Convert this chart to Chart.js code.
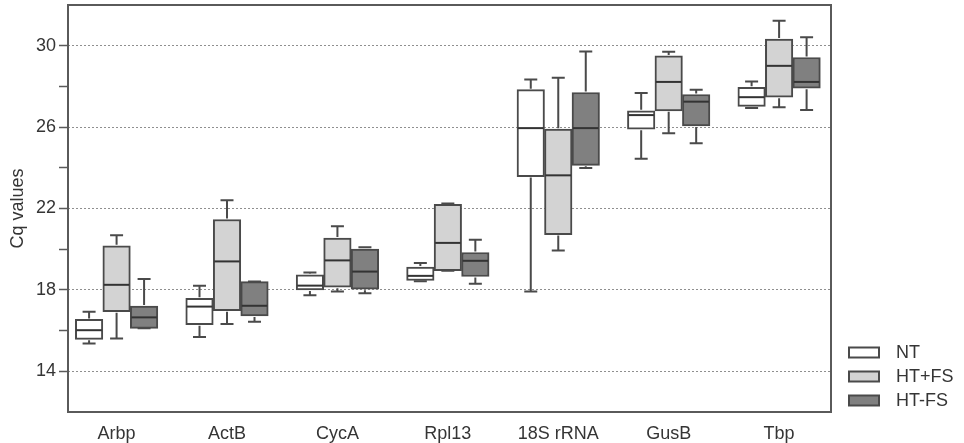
<!DOCTYPE html>
<html>
<head>
<meta charset="utf-8">
<script src="https://cdn.jsdelivr.net/npm/chart.js@4.4.1/dist/chart.umd.min.js"></script>
<style>
  html, body { margin: 0; padding: 0; background: #fff; }
  #wrap { width: 964px; height: 443px; position: relative; }
</style>
</head>
<body>
<div id="wrap"><canvas id="cqChart"></canvas></div>
<script>
  // Genes on the x axis
  const categories = ['Arbp', 'ActB', 'CycA', 'Rpl13', '18S rRNA', 'GusB', 'Tbp'];
  const yTickLabels = [14, 18, 22, 26, 30];

  // NT
  const ntMin    = [15.37, 15.69, 17.74, 18.43, 17.92, 24.45, 26.94];
  const ntQ1     = [15.57, 16.29, 18.00, 18.46, 23.57, 25.90, 27.02];
  const ntMedian = [16.02, 17.18, 18.21, 18.69, 25.95, 26.59, 27.47];
  const ntQ3     = [16.55, 17.59, 18.74, 19.12, 27.84, 26.80, 27.96];
  const ntMax    = [16.93, 18.21, 18.85, 19.32, 28.34, 27.68, 28.24];

  // HT+FS
  const hfMin    = [15.61, 16.32, 17.92, 18.94, 19.94, 25.70, 26.97];
  const hfQ1     = [16.93, 16.98, 18.13, 18.94, 20.72, 26.80, 27.47];
  const hfMedian = [18.25, 19.40, 19.45, 20.31, 23.63, 28.22, 29.01];
  const hfQ3     = [20.17, 21.46, 20.55, 22.20, 25.90, 29.50, 30.33];
  const hfMax    = [20.68, 22.40, 21.13, 22.25, 28.42, 29.70, 31.22];

  // HT-FS
  const hnMin    = [16.11, 16.43, 17.84, 18.30, 23.99, 25.21, 26.84];
  const hnQ1     = [16.11, 16.72, 18.03, 18.66, 24.12, 26.06, 27.91];
  const hnMedian = [16.65, 17.22, 18.90, 19.43, 25.95, 27.25, 28.22];
  const hnQ3     = [17.21, 18.41, 20.01, 19.84, 27.70, 27.60, 29.42];
  const hnMax    = [18.53, 18.41, 20.09, 20.47, 29.72, 27.83, 30.41];

  const groups = [
    { label: 'NT',    fill: '#ffffff', min: ntMin, q1: ntQ1, median: ntMedian, q3: ntQ3, max: ntMax },
    { label: 'HT+FS', fill: '#d3d3d3', min: hfMin, q1: hfQ1, median: hfMedian, q3: hfQ3, max: hfMax },
    { label: 'HT-FS', fill: '#808080', min: hnMin, q1: hnQ1, median: hnMedian, q3: hnQ3, max: hnMax }
  ];

  const lineColor = '#4a4a4a';
  const textColor = '#353535';
  const fontFamily = '"Liberation Sans", Arial, Helvetica, sans-serif';
  const fontSize = 18;

  // whiskers + medians on top of the floating bars
  const boxStats = {
    id: 'boxStats',
    afterDatasetsDraw(chart) {
      const { ctx } = chart;
      const y = chart.scales.y;
      chart.data.datasets.forEach((ds, di) => {
        const meta = chart.getDatasetMeta(di);
        meta.data.forEach((bar, i) => {
          const half = bar.width / 2;
          const cap = 6.5;
          const pMin = y.getPixelForValue(ds.stats.min[i]);
          const pQ1 = y.getPixelForValue(ds.stats.q1[i]);
          const pMed = y.getPixelForValue(ds.stats.median[i]);
          const pQ3 = y.getPixelForValue(ds.stats.q3[i]);
          const pMax = y.getPixelForValue(ds.stats.max[i]);
          ctx.save();
          ctx.strokeStyle = lineColor;
          ctx.lineWidth = 2;
          ctx.beginPath();
          if (pMax < pQ3) {
            ctx.moveTo(bar.x, pQ3 - 1);
            ctx.lineTo(bar.x, pMax);
          }
          ctx.moveTo(bar.x - cap, pMax);
          ctx.lineTo(bar.x + cap, pMax);
          if (pMin > pQ1) {
            ctx.moveTo(bar.x, pQ1 + 1);
            ctx.lineTo(bar.x, pMin);
          }
          ctx.moveTo(bar.x - cap, pMin);
          ctx.lineTo(bar.x + cap, pMin);
          ctx.stroke();
          ctx.strokeStyle = '#333333';
          ctx.beginPath();
          ctx.moveTo(bar.x - half + 1, pMed);
          ctx.lineTo(bar.x + half - 1, pMed);
          ctx.stroke();
          ctx.restore();
        });
      });
    }
  };

  // box around the plot + legend at the lower right
  const frameAndLegend = {
    id: 'frameAndLegend',
    afterDraw(chart) {
      const { ctx, chartArea } = chart;
      ctx.save();
      ctx.strokeStyle = '#5a5a5a';
      ctx.lineWidth = 2;
      ctx.strokeRect(chartArea.left, chartArea.top, chartArea.right - chartArea.left, chartArea.bottom - chartArea.top);

      const x0 = chartArea.right + 18;
      const lastY = chartArea.bottom - 11.5;
      const n = chart.data.datasets.length;
      ctx.font = fontSize + 'px ' + fontFamily;
      ctx.textBaseline = 'middle';
      chart.data.datasets.forEach((ds, i) => {
        const yc = lastY - (n - 1 - i) * 24;
        ctx.fillStyle = ds.backgroundColor;
        ctx.fillRect(x0, yc - 5, 30, 10);
        ctx.strokeStyle = lineColor;
        ctx.lineWidth = 2;
        ctx.strokeRect(x0, yc - 5, 30, 10);
        ctx.fillStyle = textColor;
        ctx.fillText(ds.label, x0 + 47, yc + 1);
      });
      ctx.restore();
    }
  };

  const ctx = document.getElementById('cqChart').getContext('2d');

  new Chart(ctx, {
    type: 'bar',
    data: {
      datasets: groups.map((g) => ({
        label: g.label,
        data: categories.map((c, i) => ({ x: i, y: [g.q1[i], g.q3[i]] })),
        stats: { min: g.min, q1: g.q1, median: g.median, q3: g.q3, max: g.max },
        backgroundColor: g.fill,
        borderColor: lineColor,
        borderWidth: 2,
        borderSkipped: false,
        barThickness: 27.5
      }))
    },
    options: {
      responsive: true,
      maintainAspectRatio: false,
      animation: false,
      devicePixelRatio: 1,
      layout: { padding: { top: 5, right: 133, left: 0, bottom: 0 } },
      plugins: {
        legend: { display: false },
        tooltip: { enabled: false }
      },
      scales: {
        x: {
          type: 'linear',
          offset: false,
          min: -0.44,
          max: 6.47,
          grid: { display: false },
          border: { display: false },
          afterBuildTicks: (scale) => {
            scale.ticks = categories.map((c, i) => ({ value: i }));
          },
          afterFit: (scale) => {
            scale.height = 31;
            scale.paddingLeft = 0;
            scale.paddingRight = 0;
          },
          ticks: {
            autoSkip: false,
            maxRotation: 0,
            padding: 3,
            color: textColor,
            font: { family: fontFamily, size: fontSize },
            callback: (v) => categories[v] ?? ''
          }
        },
        y: {
          min: 12,
          max: 32,
          afterFit: (scale) => {
            scale.width = 68;
            scale.paddingTop = 0;
            scale.paddingBottom = 0;
          },
          grid: {
            color: (c) => yTickLabels.includes(c.tick.value) ? '#8f8f8f' : 'rgba(0,0,0,0)',
            tickColor: (c) => (c.tick.value >= 14 && c.tick.value <= 30) ? '#5a5a5a' : 'rgba(0,0,0,0)',
            tickLength: 9,
            tickWidth: 1.5,
            lineWidth: 1
          },
          border: { display: false, dash: [2, 2] },
          ticks: {
            stepSize: 2,
            padding: 3,
            color: textColor,
            font: { family: fontFamily, size: fontSize },
            callback: (v) => yTickLabels.includes(v) ? String(v) : ''
          },
          title: {
            display: true,
            text: 'Cq values',
            color: textColor,
            font: { family: fontFamily, size: fontSize },
            padding: { top: 7, bottom: 0 }
          }
        }
      }
    },
    plugins: [boxStats, frameAndLegend]
  });
</script>
</body>
</html>
